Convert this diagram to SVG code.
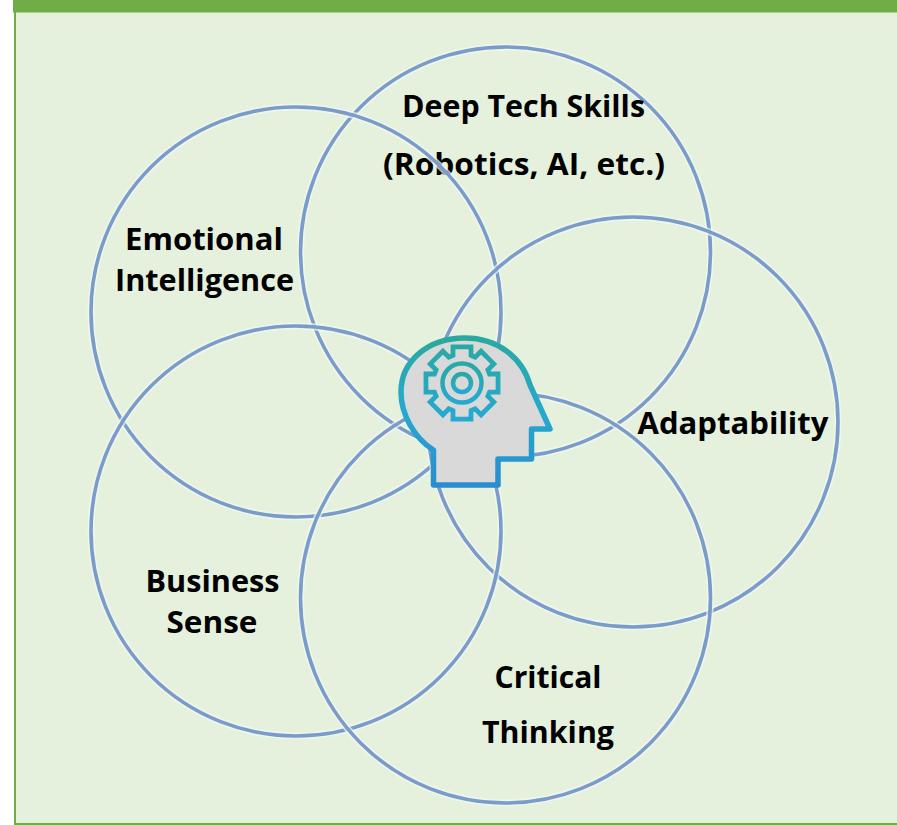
<svg xmlns="http://www.w3.org/2000/svg" width="897" height="825" viewBox="0 0 897 825">
<style>
.halo{fill:none;stroke:#f4f9f1;stroke-width:7;opacity:.7}
.ring{fill:none;stroke:#7b9cca;stroke-width:3.600}
.lbl{font-family:"Open Sans","Liberation Sans",sans-serif;font-weight:700;font-size:30.500px;fill:#000;text-anchor:middle}
</style>
<defs>
<linearGradient id="hg" gradientUnits="userSpaceOnUse" x1="470" y1="338" x2="470" y2="487">
<stop offset="0" stop-color="#29a99f"/><stop offset=".5" stop-color="#25a9cf"/><stop offset="1" stop-color="#2b8ccf"/>
</linearGradient>
<linearGradient id="gg" x1="0" y1="0" x2="0" y2="1">
<stop offset="0" stop-color="#29a9a5"/><stop offset="1" stop-color="#25a9d2"/>
</linearGradient>
</defs>
<rect width="897" height="825" fill="#fff"/>
<rect x="15" y="12" width="882" height="811" fill="#e5f0dd"/>
<rect x="13" y="0" width="884" height="12.500" fill="#70ad47"/>
<rect x="14" y="12" width="2" height="811" fill="#70ad47"/>
<rect x="14" y="823" width="883" height="2" fill="#70ad47"/>
<g id="connectors"></g>
<g id="node-deep-tech"><circle class="halo" cx="505.500" cy="252" r="205"/><circle class="ring" cx="505.500" cy="252" r="205"/><text class="lbl" x="523.500" y="117" textLength="243" lengthAdjust="spacingAndGlyphs">Deep Tech Skills</text><text class="lbl" x="524" y="175" textLength="282" lengthAdjust="spacingAndGlyphs">(Robotics, AI, etc.)</text></g>
<g id="node-emotional"><circle class="halo" cx="296" cy="312" r="205"/><circle class="ring" cx="296" cy="312" r="205"/><text class="lbl" x="204" y="250" textLength="158" lengthAdjust="spacingAndGlyphs">Emotional</text><text class="lbl" x="204.500" y="291" textLength="179" lengthAdjust="spacingAndGlyphs">Intelligence</text></g>
<g id="node-adaptability"><circle class="halo" cx="633" cy="422" r="205"/><circle class="ring" cx="633" cy="422" r="205"/><text class="lbl" x="733" y="434" textLength="191" lengthAdjust="spacingAndGlyphs">Adaptability</text></g>
<g id="node-business"><circle class="halo" cx="296" cy="531" r="205"/><circle class="ring" cx="296" cy="531" r="205"/><text class="lbl" x="212.500" y="592" textLength="134" lengthAdjust="spacingAndGlyphs">Business</text><text class="lbl" x="212" y="633" textLength="91" lengthAdjust="spacingAndGlyphs">Sense</text></g>
<g id="node-critical"><circle class="halo" cx="505.500" cy="598" r="205"/><circle class="ring" cx="505.500" cy="598" r="205"/><text class="lbl" x="548" y="688" textLength="107" lengthAdjust="spacingAndGlyphs">Critical</text><text class="lbl" x="548" y="743" textLength="132" lengthAdjust="spacingAndGlyphs">Thinking</text></g>
<g id="node-head">
<path d="M433.500 485V450C414 438 401 414 401 392C401 361 428 338 465 338C497 338 522 357 530 385L550 429H531.500V459H498V485Z" fill="#d9d9d9" stroke="url(#hg)" stroke-width="5.500" stroke-linejoin="round"/>
<g fill="none" stroke="url(#gg)" stroke-width="4.500">
<path id="gear" transform="translate(462 383) scale(1.060)" d="M-8.500 -34H8.500V-26L12.400 -24.400L18 -30L30 -18L24.400 -12.400L26 -8.500H34V8.500H26L24.400 12.400L30 18L18 30L12.400 24.400L8.500 26V34H-8.500V26L-12.400 24.400L-18 30L-30 18L-24.400 12.400L-26 8.500H-34V-8.500H-26L-24.400 -12.400L-30 -18L-18 -30L-12.400 -24.400L-8.500 -26Z"/>
<circle cx="462" cy="383" r="19.500"/>
<circle cx="462" cy="383" r="9"/>
</g>
</g>
</svg>
